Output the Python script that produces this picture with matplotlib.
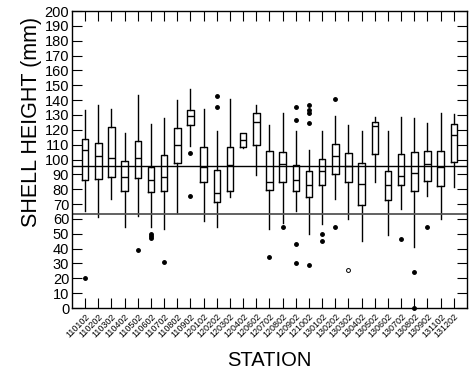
import matplotlib
matplotlib.use('Agg')
import matplotlib.pyplot as plt

plt.rcParams['font.family'] = ['Liberation Sans', 'DejaVu Sans']

stations = ['110102', '110202', '110302', '110402', '110502', '110602', '110702',
            '110802', '110902', '120102', '120202', '120302', '120402', '120602',
            '120702', '120802', '120902', '121002', '130102', '130202', '130302',
            '130402', '130502', '130602', '130702', '130802', '130902', '131102',
            '131202']
# box statistics (mm)
whis_hi = [133.3, 136.5, 134.2, 117.6, 143.7, 123.7, 127.7, 140, 147.3, 134,
           119.4, 140.5, 118, 137, 123, 131.6, 119.2, 106.4, 119.2, 129.5,
           123.5, 119, 128.4, 119.4, 128.9, 127.7, 124.8, 131.3, 130.4]
q3 = [113.6, 111.3, 121.7, 99.2, 112.7, 94.7, 103, 121.5, 133.1, 108.4,
      92.9, 108.7, 117.6, 131.6, 106, 105.1, 96.5, 92.5, 100.6, 110.5,
      104.6, 97.4, 125.3, 92, 103.9, 105.3, 106, 106, 124.2]
med = [106.4, 102.4, 100.8, 88.5, 101, 86.2, 88, 110, 129.1, 94.7,
       77.2, 96.1, 113.1, 125.3, 84.9, 97, 86.4, 82.8, 92, 102.1,
       95.9, 83.7, 122.6, 83.1, 89.1, 91.1, 97, 94.7, 116.5]
q1 = [86.2, 86.7, 88, 78.8, 87.8, 78.1, 79, 97.4, 123, 84.6,
      71.6, 78.8, 108.4, 109.8, 79.7, 85.1, 78.8, 75, 82.8, 90.2,
      84.9, 69.6, 103.5, 72.5, 82.6, 79, 85.8, 82.4, 98.3]
whis_lo = [65.5, 61, 73.2, 54.3, 62, 54.8, 53, 63.8, 109.3, 58.8,
           54.8, 74.5, 108, 89.4, 53.4, 57, 65.1, 49.6, 56.6, 73.4,
           60.2, 45.3, 84.6, 48.9, 66.9, 41.3, 75.4, 60.2, 81.7]
outliers = [[20], [], [], [], [39], [49.6, 48.5, 47.4], [30.8], [], [104.6, 75.4], [],
            [142.8, 135.1], [], [], [], [34.1], [54.3], [135.1, 126.6, 42.9, 30.5],
            [136.7, 133.3, 131.1, 124.4, 29], [49.8, 45.3], [141, 54.8], [], [], [],
            [], [46.5], [24.2, 0], [54.8], [], []]
open_x = [21]
open_y = [25.6]
ref_lines = [95.5, 63.5]

stats = []
for i in range(len(stations)):
    stats.append({'med': med[i], 'q1': q1[i], 'q3': q3[i],
                  'whislo': whis_lo[i], 'whishi': whis_hi[i],
                  'fliers': outliers[i]})

fig = plt.figure(figsize=(4.72, 3.72), dpi=100)
ax = fig.add_axes([0.1525, 0.172, 0.8369, 0.7984])

pos = list(range(1, len(stations) + 1))
bp = ax.bxp(stats, positions=pos, widths=0.5, showcaps=False,
            boxprops=dict(color='black', linewidth=1),
            medianprops=dict(color='black', linewidth=1),
            whiskerprops=dict(color='black', linewidth=1),
            flierprops=dict(marker='o', markersize=2.5, markerfacecolor='black',
                            markeredgecolor='black', linestyle='none'))
for f in bp['fliers']:
    f.set_clip_on(False)
ax.plot(open_x, open_y, 'o', markersize=2.8, markerfacecolor='white',
        markeredgecolor='black', markeredgewidth=0.7)

ax.axhline(ref_lines[0], color='black', linewidth=1)
ax.axhline(ref_lines[1], color='#555555', linewidth=1.3)

ax.set_xlim(0, 30)
ax.set_ylim(0, 200)
ax.set_yticks(range(0, 201, 10))
ax.set_xticks(pos)
ax.set_xticklabels(stations, rotation=45, ha='right', va='top',
                   rotation_mode='anchor', fontsize=6.5)
ax.tick_params(axis='y', direction='in', length=7, right=True, labelsize=10.5, pad=2)
ax.tick_params(axis='x', direction='in', length=7, top=True, pad=3)
for s in ax.spines.values():
    s.set_linewidth(1)

ax.set_ylabel('SHELL HEIGHT (mm)', fontsize=15.5)
ax.yaxis.set_label_coords(-0.075, 0.625)
ax.set_xlabel('STATION', fontsize=14.5)
ax.xaxis.set_label_coords(0.5, -0.145)

fig.savefig('out.png', dpi=100)
